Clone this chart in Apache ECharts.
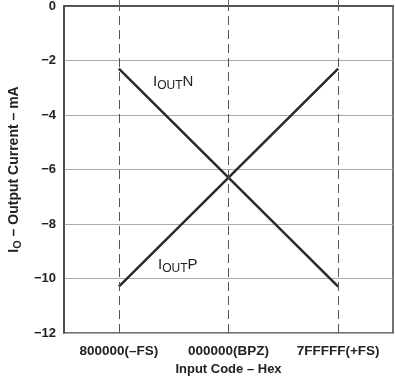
<!DOCTYPE html>
<html>
<head>
<meta charset="utf-8">
<script src="https://cdn.jsdelivr.net/npm/echarts@6/dist/echarts.min.js"></script>
<style>
html, body { margin: 0; padding: 0; background: #fff; }
#main { width: 395px; height: 376px; }
</style>
</head>
<body>
<div id="main"></div>
<script>
var codes = ['800000(–FS)', '000000(BPZ)', '7FFFFF(+FS)'];
var ioutN = [-2.3, -6.3, -10.3];
var ioutP = [-10.3, -6.3, -2.3];
var yTicks = { min: -12, max: 0, interval: 2 };

var myChart = echarts.init(document.getElementById('main'));
var font = 'Liberation Sans, Arial, sans-serif';

var option = {
    animation: false,
    grid: {
        left: 64, right: 2, top: 6, bottom: 43,
        outerBoundsMode: 'none',
        show: true, borderColor: '#444', borderWidth: 1.5
    },
    xAxis: {
        type: 'category',
        data: codes,
        boundaryGap: true,
        axisLine: { lineStyle: { color: '#444', width: 1.5 } },
        axisTick: { show: true, inside: true, alignWithLabel: true, length: 6, lineStyle: { color: '#666' } },
        axisLabel: {
            interval: 0, hideOverlap: false,
            color: '#222', fontFamily: font, fontWeight: 'bold', fontSize: 13.5, margin: 11
        },
        splitLine: { show: false },
        name: 'Input Code – Hex',
        nameLocation: 'middle',
        nameGap: 28,
        nameTextStyle: { color: '#222', fontFamily: font, fontWeight: 'bold', fontSize: 13 }
    },
    yAxis: {
        type: 'value',
        min: yTicks.min, max: yTicks.max, interval: yTicks.interval,
        axisLine: { show: true, lineStyle: { color: '#444', width: 1.5 } },
        axisTick: { show: false },
        axisLabel: {
            color: '#222', fontFamily: font, fontWeight: 'bold', fontSize: 13, margin: 8,
            formatter: function (v) { return String(v).replace('-', '−'); }
        },
        splitLine: { lineStyle: { color: '#aaa', width: 1 } },
        name: '{a|I}{b|O}{a| – Output Current – mA}',
        nameLocation: 'middle',
        nameRotate: 90,
        nameGap: 36,
        nameTextStyle: {
            rich: {
                a: { color: '#222', fontFamily: font, fontWeight: 'bold', fontSize: 14 },
                b: { color: '#222', fontFamily: font, fontWeight: 'bold', fontSize: 11, padding: [6, 0, 0, 0] }
            }
        }
    },
    series: [{
        name: 'IOUTN',
        type: 'line',
        data: ioutN,
        showSymbol: false,
        lineStyle: { color: '#2a2a2a', width: 2.5 },
        markLine: {
            silent: true,
            symbol: 'none',
            label: { show: false },
            lineStyle: { color: '#555', type: [9, 5], width: 1 },
            data: codes.map(function (c) { return { xAxis: c }; })
        }
    }, {
        name: 'IOUTP',
        type: 'line',
        data: ioutP,
        showSymbol: false,
        lineStyle: { color: '#2a2a2a', width: 2.5 }
    }],
    graphic: [{
        type: 'text', left: 153, top: 74,
        style: {
            text: '{a|I}{b|OUT}{a|N}',
            rich: {
                a: { fill: '#222', fontFamily: font, fontSize: 15 },
                b: { fill: '#222', fontFamily: font, fontSize: 12, padding: [8, 0, 0, 0] }
            }
        }
    }, {
        type: 'text', left: 158, top: 257,
        style: {
            text: '{a|I}{b|OUT}{a|P}',
            rich: {
                a: { fill: '#222', fontFamily: font, fontSize: 15 },
                b: { fill: '#222', fontFamily: font, fontSize: 12, padding: [8, 0, 0, 0] }
            }
        }
    }]
};
myChart.setOption(option);
</script>
</body>
</html>
